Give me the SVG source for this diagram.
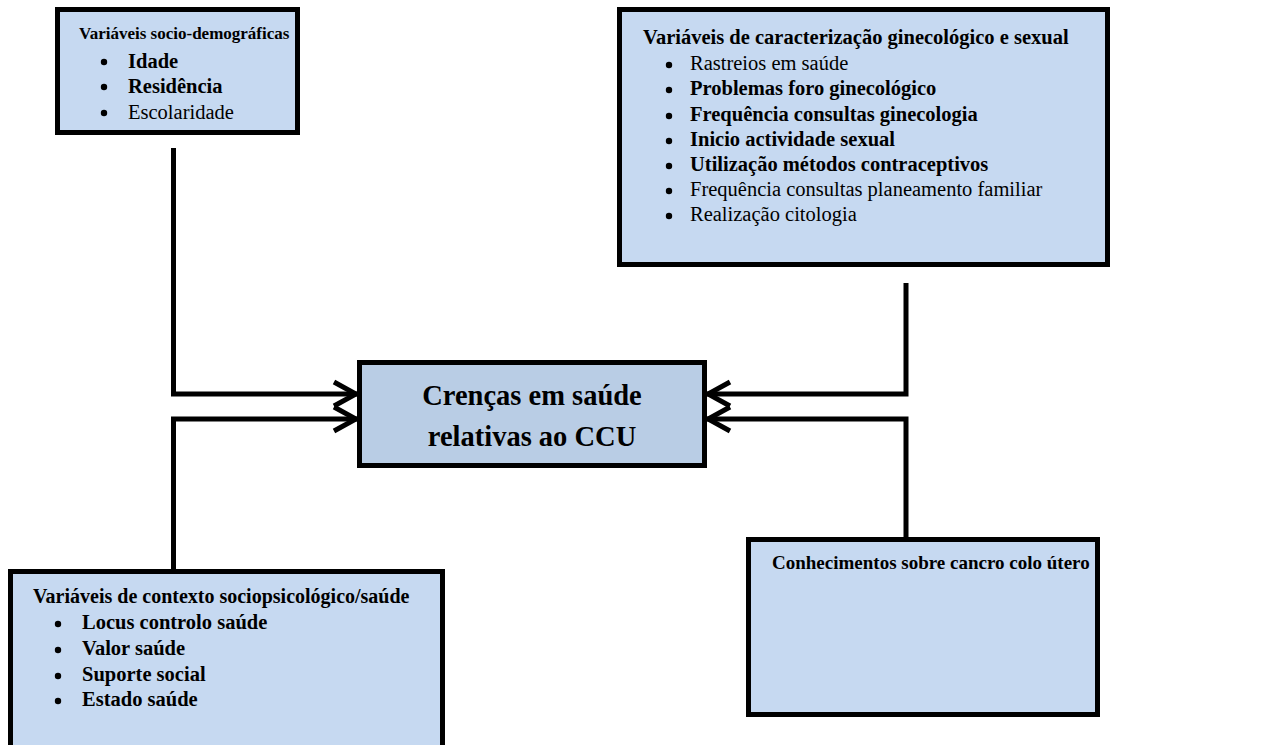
<svg xmlns="http://www.w3.org/2000/svg" width="1273" height="745" viewBox="0 0 1273 745">
<defs>
<style>
.box{fill:#c6d9f1;stroke:#000;stroke-width:5}
.ctr{fill:#b9cde5;stroke:#000;stroke-width:5}
.t{font-family:"Liberation Serif","Times New Roman",serif;font-size:20.5px;fill:#000}
.b{font-weight:bold}
.big{font-family:"Liberation Serif","Times New Roman",serif;font-size:28.5px;font-weight:bold;text-anchor:middle;fill:#000}
.con{fill:none;stroke:#000;stroke-width:5;stroke-linejoin:miter;marker-end:url(#chev)}
</style>
<marker id="chev" markerUnits="userSpaceOnUse" viewBox="-30 -16 34 32" refX="0" refY="0" markerWidth="34" markerHeight="32" orient="auto">
<path d="M-23,-12 L-1,0 L-23,12" fill="none" stroke="#000" stroke-width="5"/>
</marker>
</defs>

<g id="connectors">
<path class="con" d="M173.5,148 V394 H357"/>
<path class="con" d="M173.5,569 V419 H357"/>
<path class="con" d="M906,283 V394 H707"/>
<path class="con" d="M906,537 V419 H707"/>
</g>

<g id="socio">
<rect class="box" x="57.5" y="9.5" width="240" height="123"/>
<text class="t b" x="79" y="39" style="font-size:17px">Variáveis socio-demográficas</text>
<g fill="#000"><circle cx="104" cy="62" r="3.2"/><circle cx="104" cy="87" r="3.2"/><circle cx="104" cy="113" r="3.2"/></g>
<text class="t b" x="128" y="68">Idade</text>
<text class="t b" x="128" y="93">Residência</text>
<text class="t" x="128" y="119">Escolaridade</text>
</g>

<g id="gineco">
<rect class="box" x="619.5" y="9.5" width="488" height="255"/>
<text class="t b" x="643" y="44">Variáveis de caracterização ginecológico e sexual</text>
<g fill="#000"><circle cx="669" cy="65" r="3.2"/><circle cx="669" cy="90" r="3.2"/><circle cx="669" cy="116" r="3.2"/><circle cx="669" cy="141" r="3.2"/><circle cx="669" cy="166" r="3.2"/><circle cx="669" cy="191" r="3.2"/><circle cx="669" cy="216" r="3.2"/></g>
<text class="t" x="690" y="70">Rastreios em saúde</text>
<text class="t b" x="690" y="95">Problemas foro ginecológico</text>
<text class="t b" x="690" y="121">Frequência consultas ginecologia</text>
<text class="t b" x="690" y="146">Inicio actividade sexual</text>
<text class="t b" x="690" y="171">Utilização métodos contraceptivos</text>
<text class="t" x="690" y="196">Frequência consultas planeamento familiar</text>
<text class="t" x="690" y="221">Realização citologia</text>
</g>

<g id="crencas">
<rect class="ctr" x="359.5" y="362.5" width="345" height="103"/>
<text class="big" x="532" y="405">Crenças em saúde</text>
<text class="big" x="532" y="446">relativas ao CCU</text>
</g>

<g id="contexto">
<rect class="box" x="10.5" y="571.5" width="432" height="180"/>
<text class="t b" x="33" y="603" style="font-size:20px">Variáveis de contexto sociopsicológico/saúde</text>
<g fill="#000"><circle cx="58" cy="624" r="3.2"/><circle cx="58" cy="650" r="3.2"/><circle cx="58" cy="676" r="3.2"/><circle cx="58" cy="701" r="3.2"/></g>
<text class="t b" x="82" y="629">Locus controlo saúde</text>
<text class="t b" x="82" y="655">Valor saúde</text>
<text class="t b" x="82" y="681">Suporte social</text>
<text class="t b" x="82" y="706">Estado saúde</text>
</g>

<g id="conhecimentos">
<rect class="box" x="748.5" y="539.5" width="349" height="175"/>
<text class="t b" x="772" y="569" style="font-size:19px">Conhecimentos sobre cancro colo útero</text>
</g>
</svg>
